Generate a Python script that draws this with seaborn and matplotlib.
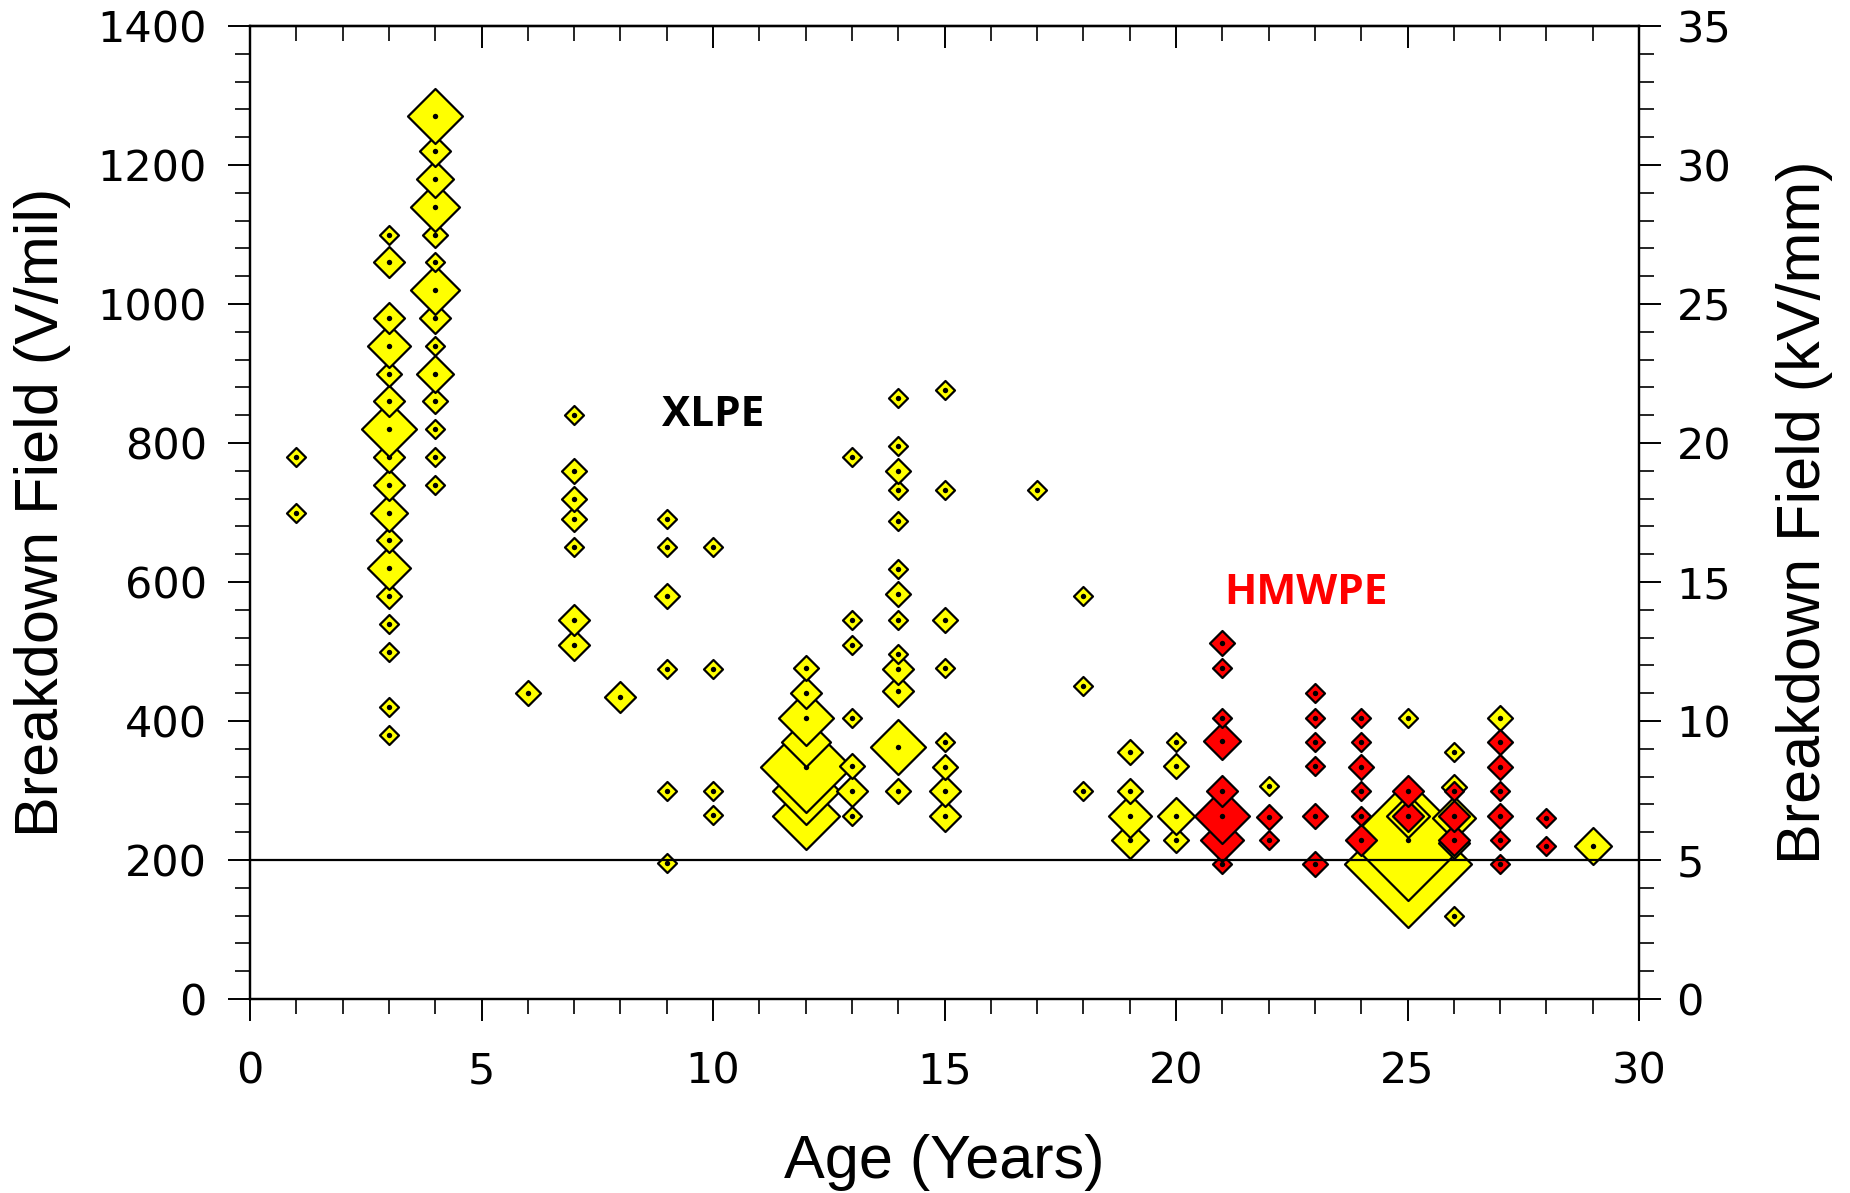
import numpy as np
import pandas as pd
import matplotlib
matplotlib.use("Agg")
import matplotlib.pyplot as plt
import seaborn as sns
from matplotlib.ticker import MultipleLocator

# ---------------- data ----------------
# XLPE (yellow): age in years, breakdown field in V/mil, number of samples (marker size)
xlpe_age = [1, 1,
            3, 3, 3, 3, 3, 3, 3, 3, 3, 3, 3, 3, 3, 3, 3, 3, 3,
            4, 4, 4, 4, 4, 4, 4, 4, 4, 4, 4, 4, 4, 4,
            6,
            7, 7, 7, 7, 7, 7, 7,
            8,
            9, 9, 9, 9, 9, 9,
            10, 10, 10, 10,
            12, 12, 12, 12, 12, 12, 12,
            13, 13, 13, 13, 13, 13, 13,
            14, 14, 14, 14, 14, 14, 14, 14, 14, 14, 14, 14, 14,
            15, 15, 15, 15, 15, 15, 15, 15,
            17,
            18, 18, 18,
            19, 19, 19, 19,
            20, 20, 20, 20,
            22,
            25, 25, 25, 25,
            26, 26, 26, 26, 26,
            27,
            29]
xlpe_field = [780, 700,
              1100, 1060, 980, 940, 900, 860, 820, 780, 740, 700, 660, 620, 580, 540, 500, 420, 380,
              1270, 1220, 1180, 1140, 1100, 1060, 1020, 980, 940, 900, 860, 820, 780, 740,
              440,
              840, 760, 720, 690, 650, 545, 510,
              435,
              690, 650, 580, 475, 300, 195,
              650, 475, 300, 265,
              476, 441, 405, 370, 334, 299, 263,
              780, 545, 510, 405, 335, 300, 264,
              865, 795, 760, 733, 688, 618, 583, 546, 497, 475, 443, 362, 300,
              876, 733, 545, 476, 370, 334, 300, 263,
              733,
              580, 450, 300,
              355, 300, 264, 229,
              370, 335, 264, 229,
              307,
              405, 264, 229, 194,
              355, 305, 260, 225, 120,
              405,
              220]
xlpe_count = [1, 1,
              1, 3, 3, 5, 2, 3, 7, 3, 3, 4, 2, 5, 2, 1, 1, 1, 1,
              7, 3, 4, 6, 2, 1, 6, 3, 1, 4, 2, 1, 1, 1,
              2,
              1, 2, 2, 2, 1, 3, 3,
              3,
              1, 1, 2, 1, 1, 1,
              1, 1, 1, 1,
              2, 3, 7, 6, 13, 9, 9,
              1, 1, 1, 1, 2, 3, 1,
              1, 1, 2, 1, 1, 1, 2, 1, 1, 3, 3, 7, 2,
              1, 1, 2, 1, 1, 2, 3, 3,
              1,
              1, 1, 1,
              2, 2, 5, 4,
              1, 2, 4, 2,
              1,
              1, 5, 18, 19,
              1, 2, 5, 3, 1,
              2,
              4]

# HMWPE (red)
hmwpe_age = [21, 21, 21, 21, 21, 21, 21, 21,
             22, 22,
             23, 23, 23, 23, 23, 23,
             24, 24, 24, 24, 24, 24,
             25, 25,
             26, 26, 26,
             27, 27, 27, 27, 27, 27,
             28, 28]
hmwpe_field = [512, 476, 405, 371, 300, 264, 229, 194,
               262, 229,
               440, 405, 370, 335, 264, 194,
               405, 370, 334, 299, 264, 229,
               299, 264,
               300, 264, 229,
               370, 334, 299, 264, 229, 194,
               260, 220]
hmwpe_count = [2, 1, 1, 4, 3, 7, 5, 1,
               2, 1,
               1, 1, 1, 1, 2, 2,
               1, 1, 2, 1, 1, 3,
               3, 3,
               1, 3, 3,
               2, 2, 1, 2, 1, 1,
               1, 1]

materials = ["XLPE", "HMWPE"]
colors = {"XLPE": "#FFFF00", "HMWPE": "#FF0000"}
threshold = 200            # V/mil reference line
label_pos = {"XLPE": (10.0, 840), "HMWPE": (22.8, 584)}

# ---------------- table ----------------
xl = pd.DataFrame({"age": xlpe_age, "field": xlpe_field, "n": xlpe_count, "material": "XLPE"})
hm = pd.DataFrame({"age": hmwpe_age, "field": hmwpe_field, "n": hmwpe_count, "material": "HMWPE"})
# draw order: within each material by age then by field (higher values on top), red over yellow
xl = xl.sort_values(["age", "field"], kind="stable")
hm = hm.sort_values(["age", "field"], kind="stable")
df = pd.concat([xl, hm], ignore_index=True)

DPI = 100
# marker half-diagonal in px grows linearly with sample count
size_map = {n: ((6.5 + 3 * n) / (0.7071 * DPI / 72)) ** 2 for n in sorted(df["n"].unique())}

# ---------------- style ----------------
sns.set_style("ticks")
plt.rcParams["font.family"] = ["DejaVu Sans"]
plt.rcParams.update({
    "axes.linewidth": 1.6,
    "text.color": "black",
    "axes.labelcolor": "black",
    "axes.edgecolor": "black",
    "xtick.color": "black",
    "ytick.color": "black",
})

fig = plt.figure(figsize=(18.5, 11.93), dpi=DPI)
ax = fig.add_axes([250 / 1850, 1 - 999 / 1193, 1389 / 1850, 973 / 1193])

for i in range(len(df)):
    row = df.iloc[[i]]
    sns.scatterplot(data=row, x="age", y="field", hue="material", palette=colors,
                    hue_order=materials, size="n", sizes=size_map, marker="D",
                    edgecolor="black", linewidth=1.6, legend=False, ax=ax, zorder=3)
    sns.scatterplot(data=row, x="age", y="field", color="black", s=15, marker="o",
                    linewidth=0, legend=False, ax=ax, zorder=3)

ax.axhline(threshold, color="black", lw=1.6, zorder=6)

for name in materials:
    tx, ty = label_pos[name]
    ax.text(tx, ty, name, color="black" if name == "XLPE" else colors[name],
            fontsize=30.5, fontweight="bold", family="Open Sans",
            ha="center", va="center", zorder=7)

ax.set_xlim(0, 30)
ax.set_ylim(0, 1400)
ax.xaxis.set_major_locator(MultipleLocator(5))
ax.xaxis.set_minor_locator(MultipleLocator(1))
ax.yaxis.set_major_locator(MultipleLocator(200))
ax.yaxis.set_minor_locator(MultipleLocator(40))
ax.tick_params(axis="x", which="both", direction="out", bottom=True, top=False,
               labelsize=31, pad=21)
ax.tick_params(axis="y", which="both", direction="out", left=True, right=False,
               labelsize=31, pad=15)
ax.tick_params(which="major", length=16, width=1.4)
ax.tick_params(which="minor", length=10.5, width=1.2)

top = ax.secondary_xaxis("top")
top.xaxis.set_major_locator(MultipleLocator(5))
top.xaxis.set_minor_locator(MultipleLocator(1))
top.tick_params(which="both", direction="in", labeltop=False)
top.tick_params(which="major", length=16, width=1.4)
top.tick_params(which="minor", length=10.5, width=1.2)

ax2 = ax.twinx()
ax2.set_ylim(0, 1400 / 40)
ax2.yaxis.set_major_locator(MultipleLocator(5))
ax2.yaxis.set_minor_locator(MultipleLocator(1))
ax2.tick_params(axis="y", which="both", direction="out", labelsize=31, pad=11)
ax2.tick_params(which="major", length=16, width=1.4)
ax2.tick_params(which="minor", length=10.5, width=1.2)

lab_font = dict(fontsize=44, family="Liberation Sans", color="black")
ax.set_xlabel("Age (Years)", **lab_font)
ax.set_ylabel("Breakdown Field (V/mil)", **lab_font)
ax2.set_ylabel("Breakdown Field (kV/mm)", **lab_font)
ax.xaxis.set_label_coords(0.5, -0.139)
ax.yaxis.set_label_coords(-0.129, 0.5)
ax2.yaxis.set_label_coords(1.0986, 0.5)

for a in (ax, ax2):
    for s in a.spines.values():
        s.set_linewidth(1.6)
        s.set_color("black")

fig.savefig("out.png", dpi=DPI, facecolor="white")
